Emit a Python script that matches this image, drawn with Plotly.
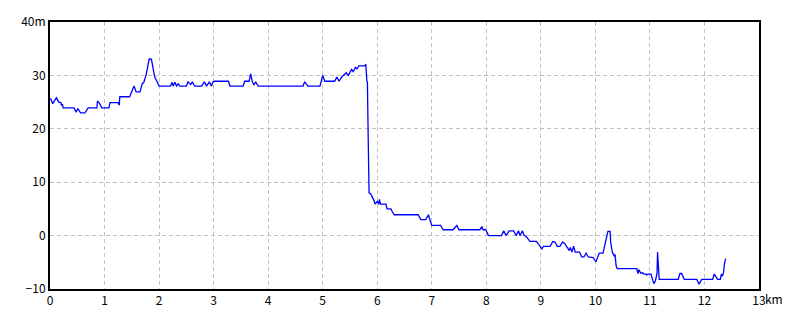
import plotly.graph_objects as go

# distance along route (km) and elevation (m)
dist_km = [0.01, 0.05, 0.09, 0.12, 0.16, 0.20, 0.21, 0.23, 0.24, 0.44, 0.48, 0.51, 0.56, 0.64, 0.70,
           0.86, 0.87, 0.91, 0.95, 1.08, 1.10, 1.25, 1.27, 1.28, 1.46, 1.50, 1.54, 1.58, 1.65, 1.69,
           1.72, 1.76, 1.80, 1.82, 1.86, 1.89, 1.92, 1.96, 2.00, 2.21, 2.24, 2.26, 2.29, 2.32, 2.35,
           2.38, 2.50, 2.53, 2.58, 2.61, 2.65, 2.78, 2.83, 2.87, 2.92, 2.96, 2.99, 3.02, 3.27, 3.30,
           3.54, 3.57, 3.65, 3.68, 3.71, 3.74, 3.77, 3.82, 4.64, 4.67, 4.73, 4.95, 4.98, 5.00, 5.04,
           5.22, 5.26, 5.30, 5.35, 5.38, 5.43, 5.47, 5.50, 5.53, 5.56, 5.60, 5.63, 5.66, 5.77, 5.79,
           5.81, 5.82, 5.83, 5.84, 5.85, 5.88, 5.92, 5.94, 5.96, 6.00, 6.03, 6.04, 6.06, 6.16, 6.18,
           6.25, 6.27, 6.31, 6.75, 6.80, 6.89, 6.94, 6.97, 7.00, 7.16, 7.21, 7.39, 7.46, 7.50, 7.88,
           7.92, 7.94, 7.99, 8.04, 8.28, 8.32, 8.36, 8.42, 8.50, 8.55, 8.59, 8.62, 8.66, 8.69, 8.74,
           8.80, 8.92, 8.97, 9.02, 9.05, 9.17, 9.22, 9.26, 9.30, 9.35, 9.40, 9.44, 9.49, 9.52, 9.54,
           9.57, 9.60, 9.63, 9.71, 9.75, 9.79, 9.83, 9.87, 9.96, 10.01, 10.04, 10.07, 10.14, 10.17, 10.20,
           10.23, 10.27, 10.28, 10.31, 10.33, 10.35, 10.36, 10.38, 10.40, 10.76, 10.78, 10.80, 10.83, 10.87, 10.89,
           10.93, 10.94, 10.97, 11.02, 11.05, 11.07, 11.10, 11.12, 11.13, 11.14, 11.15, 11.16, 11.17, 11.52, 11.55,
           11.58, 11.63, 11.86, 11.90, 11.95, 12.15, 12.18, 12.21, 12.24, 12.29, 12.31, 12.33, 12.35, 12.37, 12.39]

elev_m = [25.7, 24.7, 25.4, 25.8, 25.0, 24.9, 24.4, 24.6, 23.9, 23.9, 23.1, 23.8, 23.0, 23.0, 23.9,
          23.9, 25.2, 24.7, 23.9, 23.9, 24.9, 24.9, 24.4, 26.0, 26.0, 27.0, 28.0, 26.9, 26.9, 28.4,
          28.7, 30.0, 32.6, 33.1, 33.0, 31.2, 29.7, 28.9, 28.0, 28.0, 28.7, 28.0, 28.7, 28.0, 28.4,
          28.0, 28.0, 28.8, 28.3, 28.8, 28.0, 28.0, 28.8, 28.0, 28.8, 28.0, 28.8, 28.9, 28.9, 28.0,
          28.0, 28.9, 28.9, 30.3, 28.8, 28.2, 28.8, 28.0, 28.0, 28.8, 28.0, 28.0, 29.1, 30.0, 28.9,
          28.9, 29.7, 28.9, 29.7, 30.0, 30.5, 30.0, 30.7, 31.1, 30.7, 31.5, 31.2, 31.8, 31.8, 32.1,
          28.9, 28.8, 21.3, 12.7, 8.0, 7.8, 7.1, 6.6, 5.9, 6.4, 5.9, 6.8, 5.9, 5.9, 5.0,
          5.0, 4.6, 3.9, 3.9, 3.0, 3.0, 3.9, 2.8, 1.9, 1.9, 1.1, 1.1, 1.9, 1.1, 1.1,
          1.7, 1.1, 1.1, 0.0, 0.0, 0.9, 0.0, 0.9, 0.9, 0.0, 0.9, 0.0, 0.9, 0.1, -0.3,
          -1.1, -1.1, -1.7, -2.5, -2.0, -2.0, -1.1, -1.2, -2.0, -2.0, -1.2, -1.5, -2.3, -2.8, -2.2,
          -3.1, -2.0, -3.1, -3.1, -4.0, -4.0, -3.3, -4.0, -4.1, -4.9, -4.0, -3.3, -3.3, -1.9, 0.0,
          0.8, 0.8, -1.2, -3.1, -3.4, -3.9, -3.5, -5.6, -6.2, -6.2, -7.1, -6.4, -7.0, -7.0, -7.2,
          -7.2, -7.4, -7.2, -7.2, -8.2, -9.0, -8.5, -7.6, -7.1, -3.1, -5.9, -7.7, -8.2, -8.2, -7.1,
          -7.1, -8.2, -8.2, -9.1, -8.2, -8.2, -7.2, -7.8, -8.2, -8.2, -7.2, -7.6, -6.9, -5.0, -4.3]

x_ticks = list(range(0, 14))
x_tick_text = [str(v) for v in range(0, 13)] + ["13"]
y_ticks = [-10, 0, 10, 20, 30, 40]
y_tick_text = ["\u221210", "0", "10", "20", "30", "40m"]

FONT = "Noto Sans CJK JP"

fig = go.Figure()
fig.add_trace(go.Scatter(x=dist_km, y=elev_m, mode="lines",
                         line=dict(color="#0000FF", width=1.3), hoverinfo="skip"))

axis_common = dict(showline=True, linecolor="black", linewidth=2, mirror=True,
                   showgrid=True, gridcolor="#C0C0C0", gridwidth=1, griddash="4px,3px",
                   zeroline=False, ticks="", tickfont=dict(family=FONT, size=12, color="black"))

fig.update_xaxes(range=[0, 13], tickmode="array", tickvals=x_ticks, ticktext=x_tick_text, **axis_common)
fig.update_yaxes(range=[-10, 40], tickmode="array", tickvals=y_ticks, ticktext=y_tick_text, **axis_common)

fig.add_annotation(x=13, y=0, xref="x", yref="paper", yanchor="top", xanchor="left",
                   text="km", showarrow=False, xshift=4, yshift=1,
                   font=dict(family=FONT, size=12, color="black"))

fig.update_layout(width=800, height=320, margin=dict(l=50, r=41, t=19, b=30),
                  paper_bgcolor="white", plot_bgcolor="white", showlegend=False)

fig.write_html("out.html", config={"displayModeBar": False})
